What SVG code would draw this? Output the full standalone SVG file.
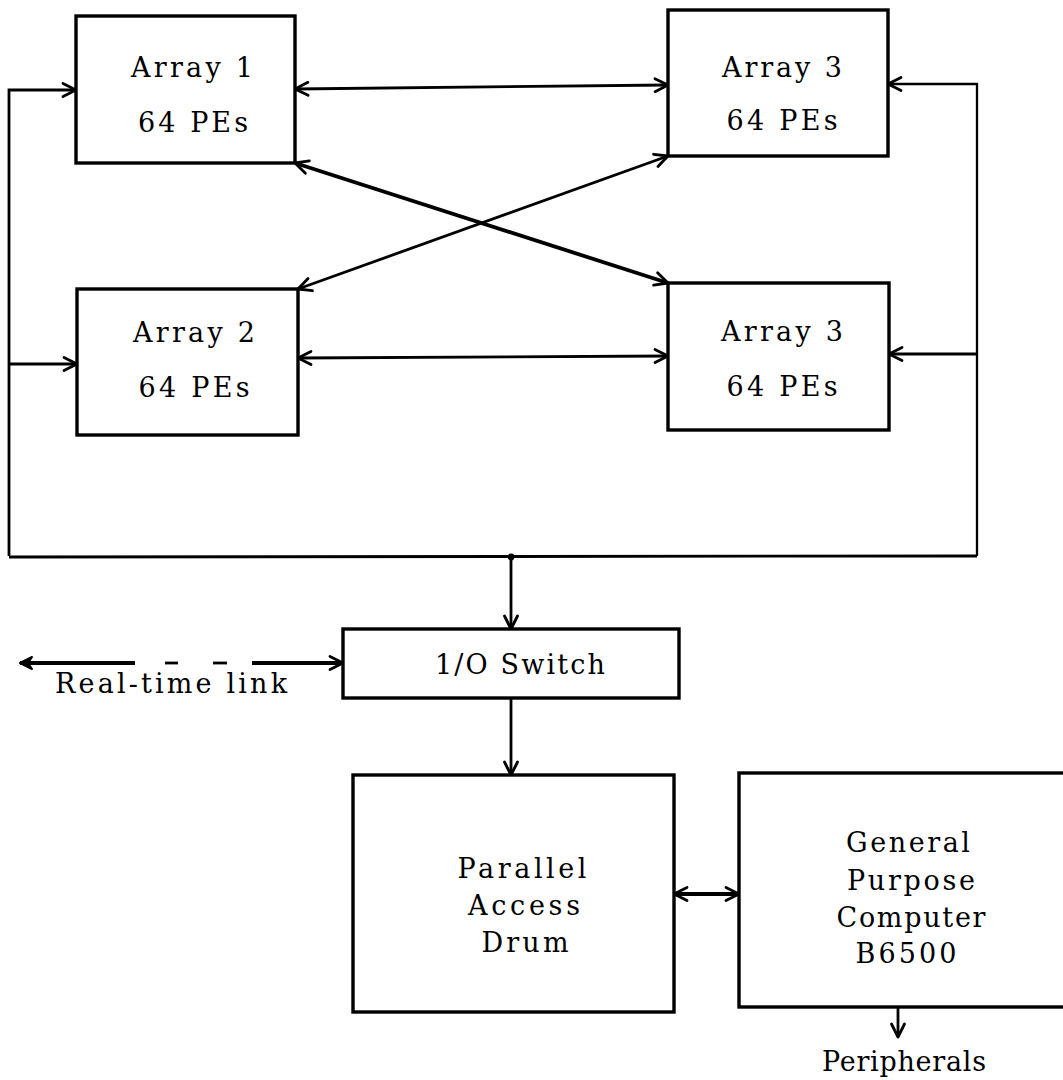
<svg xmlns="http://www.w3.org/2000/svg" width="1063" height="1080" viewBox="0 0 1063 1080">
<style>
.box{fill:#fff;stroke:#000;stroke-width:3.4}
.t{font-family:"DejaVu Serif","Liberation Serif",serif;font-size:27px;fill:#000;text-anchor:middle}
.ln{fill:none;stroke:#000;stroke-width:2.8;stroke-linecap:butt}
.thin{stroke-width:2.3}
.thick{stroke-width:3.8}
</style>
<defs>
<marker id="ah" viewBox="-16 -10 20 20" refX="0" refY="0" markerWidth="20" markerHeight="20" markerUnits="userSpaceOnUse" orient="auto-start-reverse">
<path d="M-13,-6.5 L0,0 L-13,6.5" fill="none" stroke="#000" stroke-width="2.8" stroke-linecap="round" stroke-linejoin="round"/>
</marker>
<marker id="ahf" viewBox="-16 -10 20 20" refX="0" refY="0" markerWidth="20" markerHeight="20" markerUnits="userSpaceOnUse" orient="auto-start-reverse">
<path d="M-12,-6 L0,0 L-12,6 L-8,0 Z" fill="#000" stroke="#000" stroke-width="2" stroke-linejoin="round"/>
</marker>
</defs>
<rect width="1063" height="1080" fill="#fff"/>

<g id="connectors">
<polyline class="ln" points="9,556 9,90 76,90" marker-end="url(#ah)"/>
<polyline class="ln" points="9,364 77,364" marker-end="url(#ah)"/>
<polyline class="ln thin" points="977,556 977,84 888,84" marker-end="url(#ah)"/>
<polyline class="ln" points="977,354 889,354" marker-end="url(#ah)"/>
<polyline class="ln" points="9,557 977,556"/>
<circle cx="511" cy="557" r="3.4" fill="#000"/>
<line class="ln" x1="295" y1="89" x2="668" y2="85" marker-start="url(#ah)" marker-end="url(#ah)"/>
<line class="ln" x1="298" y1="358" x2="668" y2="356" marker-start="url(#ah)" marker-end="url(#ah)"/>
<line class="ln thick" x1="295" y1="163" x2="668" y2="283" marker-start="url(#ah)" marker-end="url(#ah)"/>
<line class="ln" x1="668" y1="156" x2="298" y2="289" marker-start="url(#ah)" marker-end="url(#ah)"/>
<line class="ln" x1="511" y1="557" x2="511" y2="629" marker-end="url(#ah)"/>
<line class="ln" x1="511" y1="698" x2="511" y2="775" marker-end="url(#ah)"/>
<line class="ln thick" x1="135" y1="663" x2="20" y2="663" marker-end="url(#ahf)"/>
<line class="ln" x1="165" y1="663" x2="178" y2="663"/>
<line class="ln" x1="213" y1="663" x2="227" y2="663"/>
<line class="ln thick" x1="252" y1="663" x2="343" y2="663" marker-end="url(#ah)"/>
<line class="ln thick" x1="674" y1="894" x2="739" y2="894" marker-start="url(#ah)" marker-end="url(#ah)"/>
<line class="ln" x1="898" y1="1007" x2="898" y2="1037" marker-end="url(#ah)"/>
</g>

<g id="array1">
<rect class="box" x="76" y="16" width="219" height="147"/>
<text class="t" x="192" y="77" textLength="122" lengthAdjust="spacing">Array 1</text>
<text class="t" x="193" y="132" textLength="110" lengthAdjust="spacing">64 PEs</text>
</g>
<g id="array3top">
<rect class="box" x="668" y="10" width="220" height="146"/>
<text class="t" x="782" y="77" textLength="120" lengthAdjust="spacing">Array 3</text>
<text class="t" x="782" y="130" textLength="111" lengthAdjust="spacing">64 PEs</text>
</g>
<g id="array2">
<rect class="box" x="77" y="289" width="221" height="146"/>
<text class="t" x="194" y="342" textLength="122" lengthAdjust="spacing">Array 2</text>
<text class="t" x="194" y="397" textLength="111" lengthAdjust="spacing">64 PEs</text>
</g>
<g id="array3bottom">
<rect class="box" x="668" y="283" width="221" height="147"/>
<text class="t" x="782" y="341" textLength="122" lengthAdjust="spacing">Array 3</text>
<text class="t" x="782" y="396" textLength="111" lengthAdjust="spacing">64 PEs</text>
</g>
<g id="ioswitch">
<rect class="box" x="343" y="629" width="336" height="69"/>
<text class="t" x="520" y="674" textLength="170" lengthAdjust="spacing">1/O Switch</text>
</g>
<g id="realtime-label">
<text class="t" x="171" y="693" textLength="232" lengthAdjust="spacing">Real-time link</text>
</g>
<g id="drum">
<rect class="box" x="353" y="775" width="321" height="237"/>
<text class="t" x="522" y="878" textLength="129" lengthAdjust="spacing">Parallel</text>
<text class="t" x="524" y="915" textLength="112" lengthAdjust="spacing">Access</text>
<text class="t" x="525" y="952" textLength="87" lengthAdjust="spacing">Drum</text>
</g>
<g id="computer">
<rect class="box" x="739" y="773" width="330" height="234"/>
<text class="t" x="908" y="852" textLength="124" lengthAdjust="spacing">General</text>
<text class="t" x="911" y="890" textLength="128" lengthAdjust="spacing">Purpose</text>
<text class="t" x="911" y="927" textLength="149" lengthAdjust="spacing">Computer</text>
<text class="t" x="906" y="963" textLength="101" lengthAdjust="spacing">B6500</text>
</g>
<g id="peripherals">
<text class="t" x="904" y="1071" textLength="164" lengthAdjust="spacing">Peripherals</text>
</g>
</svg>
